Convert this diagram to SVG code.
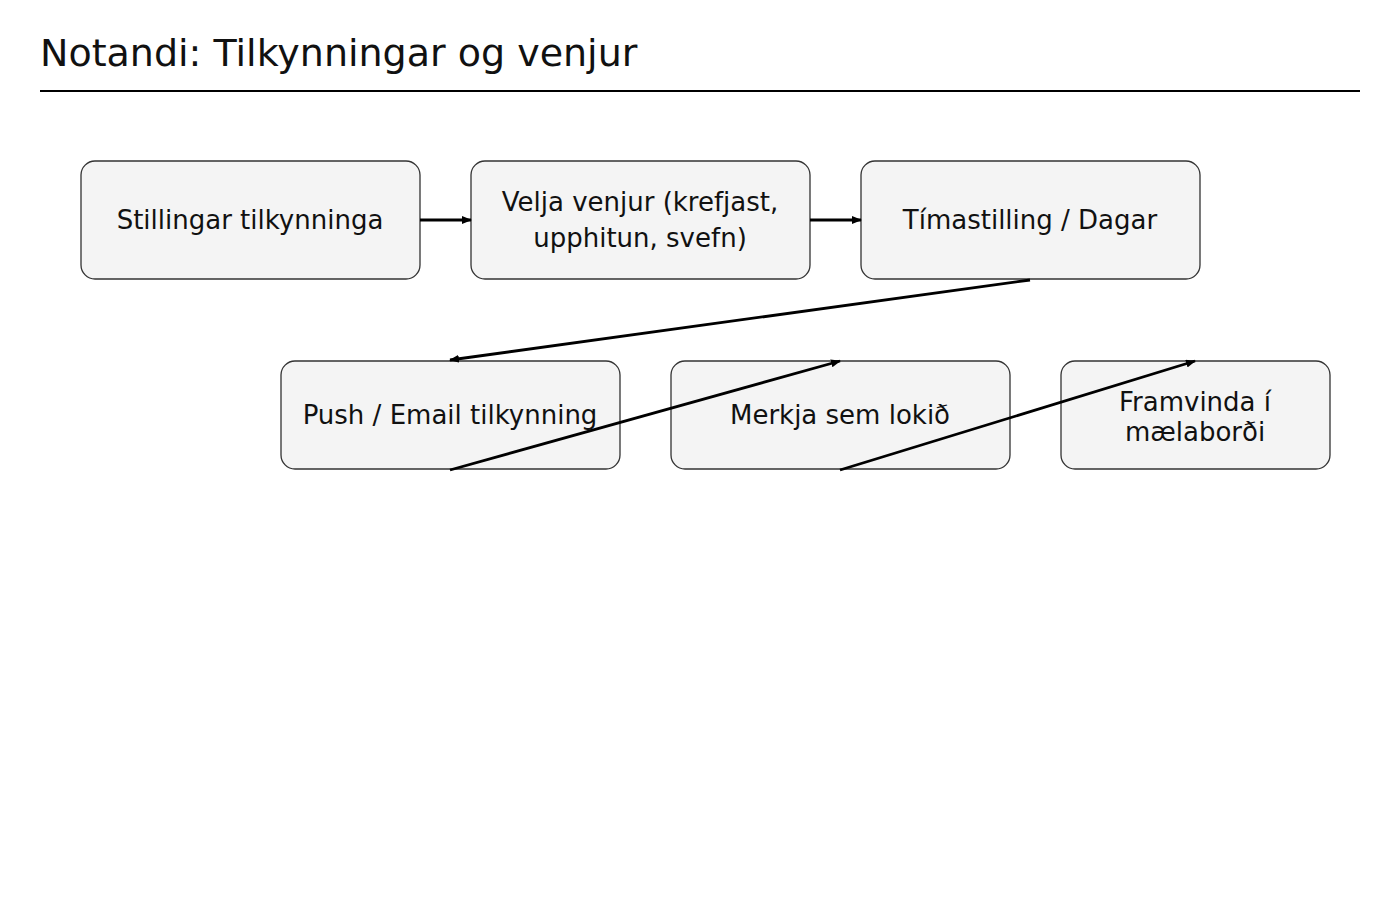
<svg xmlns="http://www.w3.org/2000/svg" width="1400" height="900" viewBox="0 0 1400 900">
<defs>
<style>
text{font-family:"DejaVu Sans","Liberation Sans",sans-serif;fill:#111;}
.title{font-size:38px;}
.lbl{font-size:26px;text-anchor:middle;dominant-baseline:central;}
.box{fill:#f4f4f4;stroke:#333;stroke-width:1.3;}
.edge{stroke:#000;stroke-width:2.8;fill:none;marker-end:url(#ah);}
</style>
<marker id="ah" markerWidth="10" markerHeight="8" refX="9" refY="4" orient="auto" markerUnits="userSpaceOnUse">
<path d="M0,0 L10,4 L0,8 Z" fill="#000"/>
</marker>
</defs>
<rect width="1400" height="900" fill="#fff"/>
<text class="title" x="40" y="66">Notandi: Tilkynningar og venjur</text>
<line x1="40" y1="91" x2="1360" y2="91" stroke="#000" stroke-width="2"/>
<g id="n1"><rect class="box" x="81" y="161" width="339" height="118" rx="14"/><text class="lbl" x="250" y="220">Stillingar tilkynninga</text></g>
<g id="n2"><rect class="box" x="471" y="161" width="339" height="118" rx="14"/><text class="lbl" x="640" y="202">Velja venjur (krefjast,</text><text class="lbl" x="640" y="238">upphitun, svefn)</text></g>
<g id="n3"><rect class="box" x="861" y="161" width="339" height="118" rx="14"/><text class="lbl" x="1030" y="220">Tímastilling / Dagar</text></g>
<g id="n4"><rect class="box" x="281" y="361" width="339" height="108" rx="14"/><text class="lbl" x="450" y="415">Push / Email tilkynning</text></g>
<g id="n5"><rect class="box" x="671" y="361" width="339" height="108" rx="14"/><text class="lbl" x="840" y="415">Merkja sem lokið</text></g>
<g id="n6"><rect class="box" x="1061" y="361" width="269" height="108" rx="14"/><text class="lbl" x="1195" y="402">Framvinda í</text><text class="lbl" x="1195" y="432">mælaborði</text></g>
<g id="connectors">
<line class="edge" x1="420" y1="220" x2="471" y2="220"/>
<line class="edge" x1="810" y1="220" x2="861" y2="220"/>
<line class="edge" x1="1030" y1="280" x2="450" y2="360"/>
<line class="edge" x1="450" y1="470" x2="840" y2="361"/>
<line class="edge" x1="840" y1="470" x2="1195" y2="361"/>
</g>
</svg>
